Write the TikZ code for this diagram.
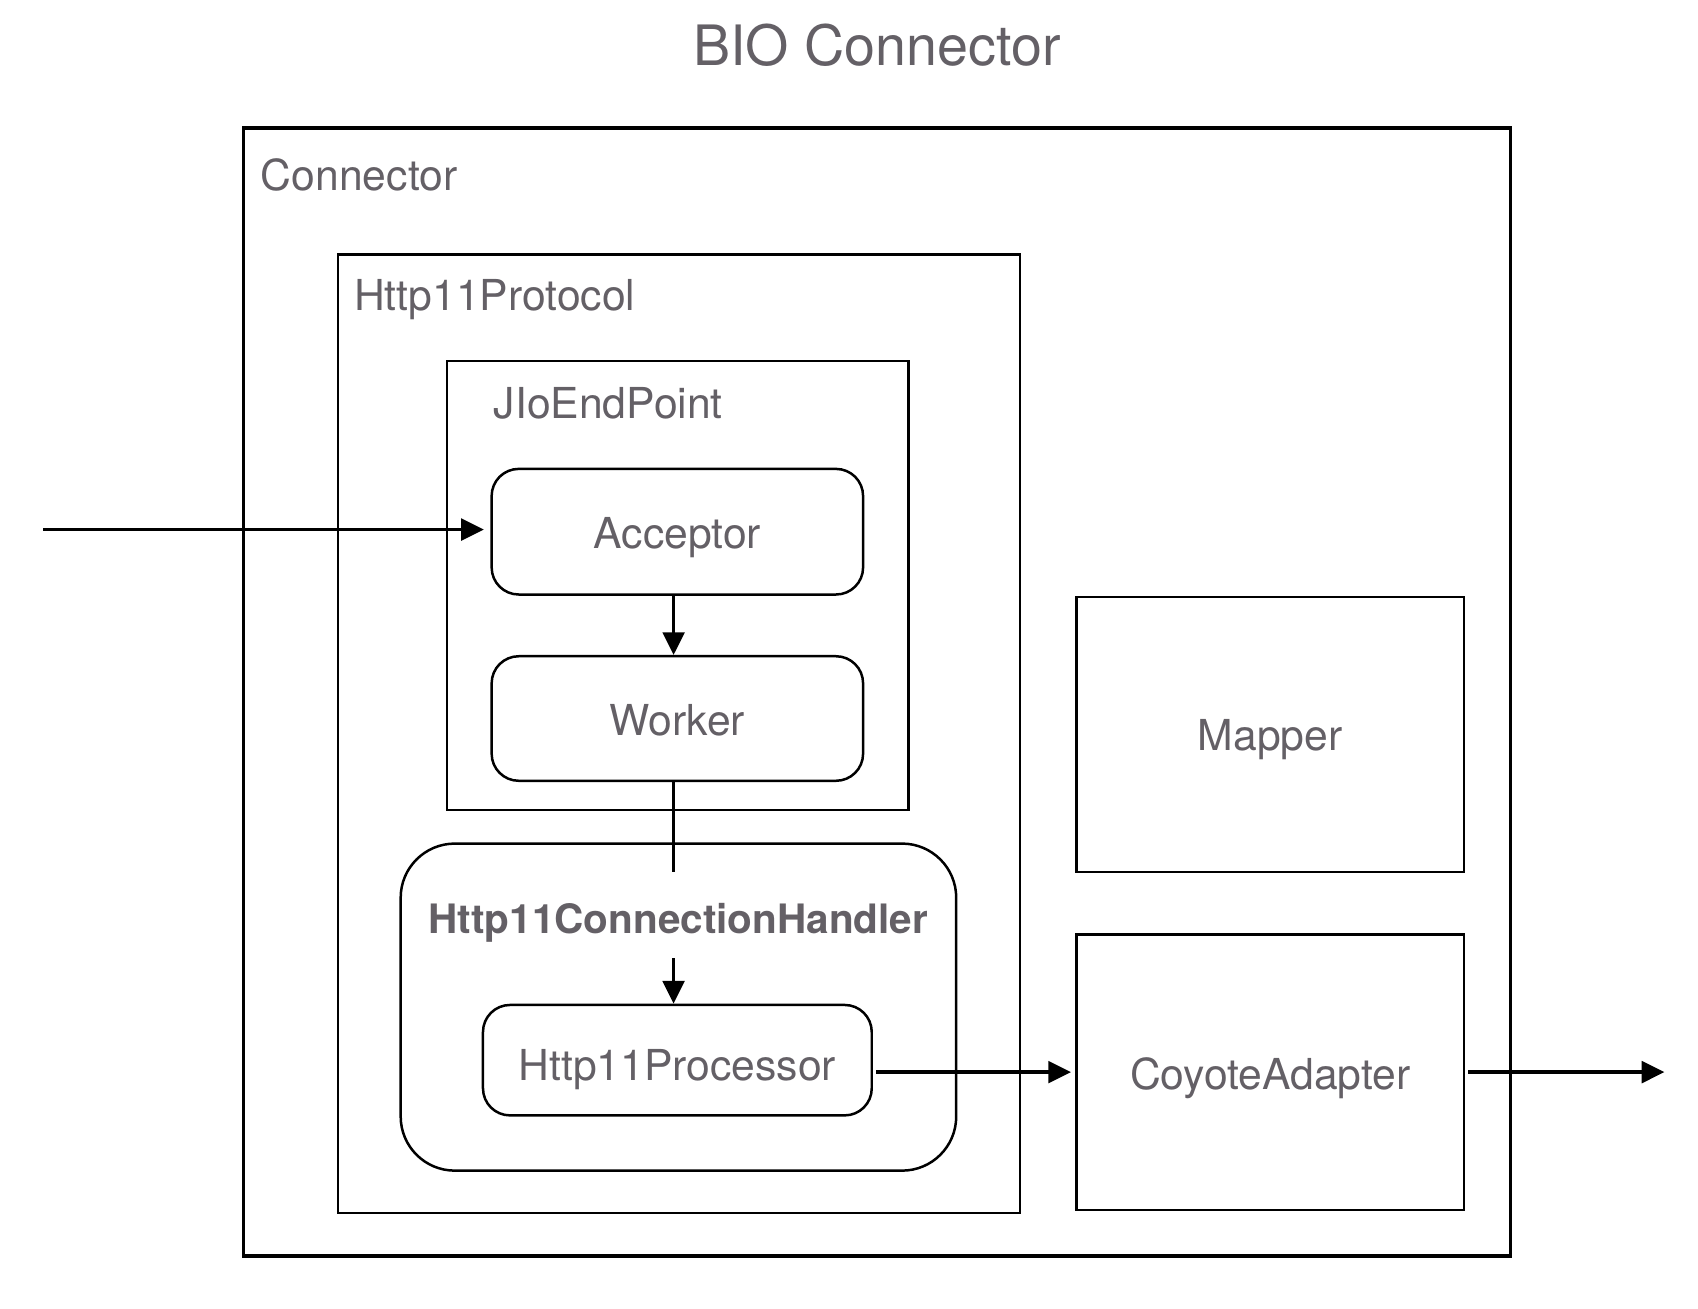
\documentclass[tikz,border=0pt]{standalone}
\usepackage{fontspec}
\setmainfont{TeX Gyre Heros}
\usetikzlibrary{arrows.meta}

\definecolor{txtgray}{RGB}{100,96,102}

\tikzset{every picture/.style={line width=1pt}}
\tikzset{
	lbl/.style={text=txtgray,font=\fontsize{19.7}{23}\selectfont,inner sep=0pt},
	frame/.style={draw,inner sep=0pt},
	rbox/.style={draw,rounded corners=12.5pt,inner sep=0pt,line width=1.15pt},
	arr/.style={-{Triangle[length=10.5pt,width=10pt]},line width=1.6pt}
}

\begin{document}
\begin{tikzpicture}[x=0.5pt,y=0.5pt,yscale=-1,xscale=1]
	\path[use as bounding box] (0,0) rectangle (1568,1208);

	% Text Node
	\node[lbl,font=\fontsize{25.7}{30}\selectfont] (title) at (810,42) {BIO Connector};

	%Shape: Rectangle [id:connector]
	\node[frame,line width=1.6pt,minimum width=585pt,minimum height=521pt] (conn) at (810,639) {};
	% Text Node
	\node[lbl,anchor=west] (connlbl) at (240,162) {Connector};

	%Shape: Rectangle [id:protocol]
	\node[frame,minimum width=315pt,minimum height=442.5pt] (proto) at (627,677.5) {};
	% Text Node
	\node[lbl,anchor=west] (protolbl) at (326,277) {Http11Protocol};

	%Shape: Rectangle [id:endpoint]
	\node[frame,minimum width=213pt,minimum height=207.5pt] (endp) at (626,540.5) {};
	% Text Node
	\node[lbl,anchor=west] (endplbl) at (455,372) {JIoEndPoint};

	%Rounded Rect [id:acceptor]
	\node[rbox,minimum width=171.5pt,minimum height=58pt] (acc) at (625.5,491) {};
	\node[lbl] (acclbl) at (625.5,496) {Acceptor};

	%Rounded Rect [id:worker]
	\node[rbox,minimum width=171.5pt,minimum height=57.5pt] (wrk) at (625.5,663.5) {};
	\node[lbl] (wrklbl) at (625.5,665.5) {Worker};

	%Rounded Rect [id:handler]
	\node[rbox,rounded corners=25pt,minimum width=256.5pt,minimum height=151pt] (hdl) at (626.5,930) {};
	% Text Node
	\node[lbl,font=\bfseries\fontsize{18.7}{23}\selectfont] (hdllbl) at (626.5,852) {Http11ConnectionHandler};

	%Rounded Rect [id:processor]
	\node[rbox,minimum width=179.5pt,minimum height=51pt] (proc) at (625.5,979) {};
	\node[lbl] (proclbl) at (625.5,988) {Http11Processor};

	%Shape: Rectangle [id:mapper]
	\node[frame,minimum width=179pt,minimum height=127pt] (map) at (1173,678) {};
	\node[lbl] (maplbl) at (1173,683) {Mapper};

	%Shape: Rectangle [id:coyote]
	\node[frame,minimum width=179pt,minimum height=127pt] (coy) at (1173,990) {};
	\node[lbl] (coylbl) at (1173,996) {CoyoteAdapter};

	% free ends
	\coordinate (inlet) at (40,489);
	\coordinate (outlet) at (1537,990);
	\coordinate (wrkend) at (622,805);
	\coordinate (hdlstart) at (622,885);

	% Connectors
	\draw[arr] (inlet) -- ([xshift=-3pt]acc.west |- inlet);
	\draw[arr] (acc.south -| wrkend) -- (wrk.north -| wrkend);
	\draw[line width=1.6pt] (wrk.south -| wrkend) -- (wrkend);
	\draw[arr] (hdlstart) -- (proc.north -| hdlstart);
	\draw[arr] ([xshift=1.5pt]proc.east |- coy) -- ([xshift=-2pt]coy.west);
	\draw[arr] ([xshift=1.5pt]coy.east) -- (outlet);

\end{tikzpicture}
\end{document}
